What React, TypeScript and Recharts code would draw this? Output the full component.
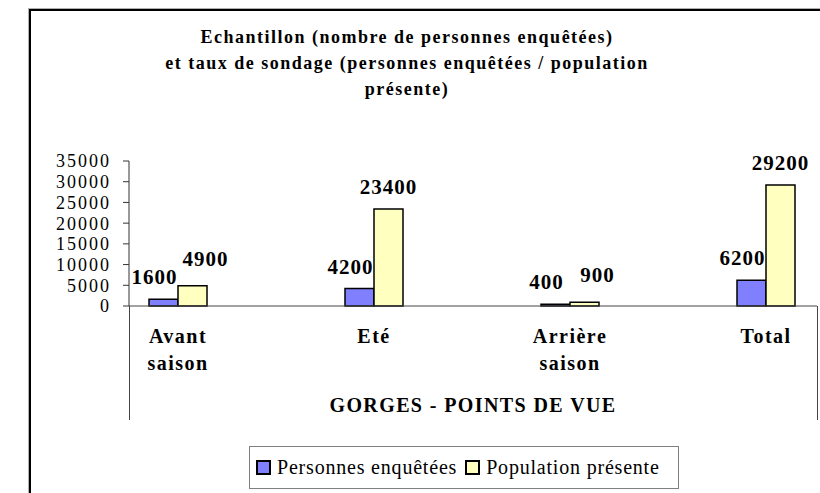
import React from 'react';
import { BarChart, Bar, XAxis, YAxis, Legend, LabelList } from 'recharts';

// Chart values
const categories = ['Avant saison', 'Eté', 'Arrière saison', 'Total'];
const enquetees = [1600, 4200, 400, 6200];
const population = [4900, 23400, 900, 29200];
const yTicks = [0, 5000, 10000, 15000, 20000, 25000, 30000, 35000];

const seriesNames = ['Personnes enquêtées', 'Population présente'];
const seriesColors = ['#8080FF', '#FFFFC0'];

const titleLines = [
  'Echantillon (nombre de personnes enquêtées)',
  'et taux de sondage (personnes enquêtées / population',
  'présente)',
];
const axisTitle = 'GORGES - POINTS DE VUE';

const data = categories.map((name, i) => ({
  name,
  enquetees: enquetees[i],
  population: population[i],
}));

const W = 820;
const H = 493;
const PLOT_LEFT = 129;
const PLOT_TOP = 161;
const PLOT_RIGHT = 817;
const PLOT_BOTTOM = 306;
const X_AXIS_H = 114;
const FONT = 'Liberation Serif, Tinos, DejaVu Serif, serif';

const CategoryTick = (props: any) => {
  const { x, y, payload } = props;
  const words = String(payload.value).split(' ');
  return (
    <text
      x={x}
      y={y + 29}
      textAnchor="middle"
      fontFamily={FONT}
      fontSize={20}
      fontWeight="bold"
      letterSpacing={1.5}
      fill="#000"
    >
      {words.map((w, i) => (
        <tspan key={i} x={x} dy={i === 0 ? 0 : 27}>
          {w}
        </tspan>
      ))}
    </text>
  );
};

// Labels are nudged sideways like Excel does when the two labels would collide
const makeLabel = (series: 0 | 1) => (props: any) => {
  const { x, y, width, value, index } = props;
  let cx = x + width / 2;
  let by = y - 15;
  if (series === 0) {
    cx -= 9;
  } else if (population[index] - enquetees[index] < 6000) {
    cx += 13;
    by -= 5;
  }
  return (
    <text
      x={cx}
      y={by}
      textAnchor="middle"
      fontFamily={FONT}
      fontSize={21}
      fontWeight="bold"
      letterSpacing={1}
      fill="#000"
    >
      {value}
    </text>
  );
};

const LegendBox = () => (
  <div
    style={{
      boxSizing: 'border-box',
      width: 430,
      height: 43,
      border: '1px solid #808080',
      display: 'flex',
      alignItems: 'center',
      paddingLeft: 6,
      fontFamily: FONT,
      fontSize: 20,
      letterSpacing: 0.8,
      color: '#000',
      whiteSpace: 'nowrap',
    }}
  >
    {seriesNames.map((n, i) => (
      <span key={n} style={{ display: 'flex', alignItems: 'center', marginRight: i === 0 ? 8 : 0 }}>
        <span
          style={{
            boxSizing: 'border-box',
            width: 15,
            height: 15,
            background: seriesColors[i],
            border: '2px solid #000',
            marginRight: 6,
          }}
        />
        <span>{n}</span>
      </span>
    ))}
  </div>
);

export default function App() {
  return (
    <div
      style={{
        position: 'absolute',
        left: 0,
        top: 0,
        width: W,
        height: H,
        overflow: 'hidden',
        background: '#fff',
      }}
    >
      {/* outer chart frame (continues past the cropped picture) */}
      <div
        style={{
          position: 'absolute',
          left: 29,
          top: 9,
          width: 820,
          height: 520,
          borderTop: '2px solid #000',
          borderLeft: '2px solid #000',
          boxShadow: '-1px -1px 0 #b0b0b0',
        }}
      />
      <BarChart
        width={W}
        height={H}
        data={data}
        barSize={29}
        barGap={0}
        margin={{ top: PLOT_TOP, right: W - PLOT_RIGHT, left: 0, bottom: H - PLOT_BOTTOM - X_AXIS_H }}
      >
        <XAxis
          dataKey="name"
          height={X_AXIS_H}
          padding={{ left: -49, right: -47 }}
          axisLine={{ stroke: '#444' }}
          tickLine={false}
          tick={<CategoryTick />}
          interval={0}
          label={(p: any) => {
            const vb = p.viewBox;
            return (
              <text
                x={vb.x + vb.width / 2}
                y={vb.y + 106}
                textAnchor="middle"
                fontFamily={FONT}
                fontSize={20}
                fontWeight="bold"
                letterSpacing={1.4}
                fill="#000"
              >
                {axisTitle}
              </text>
            );
          }}
        />
        <YAxis
          width={PLOT_LEFT}
          domain={[0, 35000]}
          ticks={yTicks}
          interval={0}
          axisLine={{ stroke: '#333' }}
          tickLine={{ stroke: '#333' }}
          tickSize={6}
          tickMargin={12}
          tick={{ fontFamily: FONT, fontSize: 18, fill: '#000', letterSpacing: 2 }}
        />
        <Legend
          layout="horizontal"
          verticalAlign="middle"
          align="center"
          wrapperStyle={{ left: 249, top: 446, width: 430, height: 43 }}
          content={() => <LegendBox />}
        />
        <Bar
          dataKey="enquetees"
          name={seriesNames[0]}
          fill={seriesColors[0]}
          stroke="#000"
          strokeWidth={1.5}
          isAnimationActive={false}
        >
          <LabelList dataKey="enquetees" content={makeLabel(0)} />
        </Bar>
        <Bar
          dataKey="population"
          name={seriesNames[1]}
          fill={seriesColors[1]}
          stroke="#000"
          strokeWidth={1.5}
          isAnimationActive={false}
        >
          <LabelList dataKey="population" content={makeLabel(1)} />
        </Bar>
      </BarChart>
      {/* title and category-table side lines */}
      <svg
        width={W}
        height={H}
        style={{ position: 'absolute', left: 0, top: 0, pointerEvents: 'none' }}
      >
        {titleLines.map((t, i) => (
          <text
            key={i}
            x={407}
            y={43 + i * 26}
            textAnchor="middle"
            fontFamily={FONT}
            fontSize={18}
            fontWeight="bold"
            letterSpacing={1.5}
            fill="#000"
          >
            {t}
          </text>
        ))}
        <line x1={PLOT_LEFT + 0.5} y1={PLOT_BOTTOM} x2={PLOT_LEFT + 0.5} y2={PLOT_BOTTOM + X_AXIS_H} stroke="#444" />
        <line x1={PLOT_RIGHT + 0.5} y1={PLOT_BOTTOM} x2={PLOT_RIGHT + 0.5} y2={PLOT_BOTTOM + X_AXIS_H} stroke="#444" />
      </svg>
    </div>
  );
}
